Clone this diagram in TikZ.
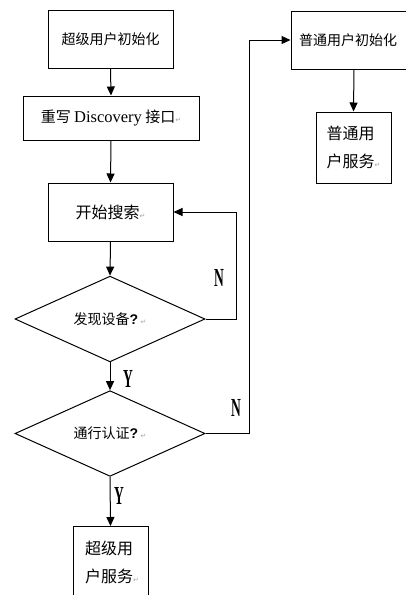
\documentclass[tikz,border=0pt]{standalone}
\usepackage{fontspec}
\setmainfont{Liberation Serif}
\newfontfamily\cjk{Noto Sans CJK SC}
\newfontfamily\symf{DejaVu Sans}
\newfontfamily\lsans{Liberation Sans}
\usetikzlibrary{shapes.geometric,arrows.meta}
\newcommand{\retmark}{{\symf\fontsize{7}{7}\selectfont\color{black!35}↵}}
\newcommand{\qmark}{{\lsans\bfseries\fontsize{14}{14}\selectfont ?}}
\tikzset{
  box/.style={draw, line width=1pt, rectangle, inner sep=0pt, fill=white},
  dia/.style={draw, line width=1pt, diamond, inner sep=0pt, minimum width=190pt, minimum height=72pt},
  arr/.style={draw, line width=1pt, -{Triangle[length=9pt,width=8pt]}},
  ln/.style={draw, line width=1pt},
  yn/.style={font=\bfseries\fontsize{26}{26}\selectfont, xscale=0.52, inner sep=0pt},
  cjk14/.style={font=\cjk\fontsize{14}{14}\selectfont},
  cjk16/.style={font=\cjk\fontsize{16}{28}\selectfont, align=left}
}
\begin{document}
\begin{tikzpicture}[x=1pt,y=-1pt]
\useasboundingbox (0,0) rectangle (406,595);
\clip (0,0) rectangle (406,595);
% left column
\node[box, cjk14, minimum width=125pt, minimum height=58pt] (b1) at (110.5,39.5) {超级用户初始化};
\node[box, minimum width=176pt, minimum height=44pt] (b2) at (111,118) {\cjk\fontsize{15}{15}\selectfont 重写 {\rmfamily\fontsize{16.5}{16.5}\selectfont Discovery} 接口\retmark};
\node[box, minimum width=125pt, minimum height=58pt] (b3) at (110.5,212) {\cjk\fontsize{16}{16}\selectfont 开始搜索\retmark};
\node[dia] (d1) at (110,319) {\cjk\fontsize{14}{14}\selectfont 发现设备\qmark\,\retmark};
\node[dia] (d2) at (110,433.5) {\cjk\fontsize{14}{14}\selectfont 通行认证\qmark\,\retmark};
\node[box, minimum width=75pt, minimum height=72pt, anchor=north] (b5) at (110.5,526) {};
\node[cjk16, anchor=north west, inner sep=0pt] (t5) at (85,541) {超级用\\户服务\retmark};
% right column
\node[box, cjk14, minimum width=126pt, minimum height=58pt] (b4) at (354,40) {\hspace*{-2pt}普通用户初始化\hspace*{10pt}};
\node[box, minimum width=75pt, minimum height=71pt] (b6) at (353.5,147.5) {};
\node[cjk16, inner sep=0pt] (t6) at (b6.center) {普通用\\户服务\retmark};
% connectors
\draw[arr] (b1.south) -- (b2.north);
\draw[arr] (b2.south) -- (b3.north);
\draw[arr] (b3.south) -- (d1.north);
\draw[arr] (d1.east) -- (236,319) |- (b3.east);
\draw[arr] (d1.south) -- (d2.north);
\draw[arr] (d2.south) -- (b5.north);
\draw[arr] (d2.east) -- (249,433.5) |- (b4.west);
\draw[arr] (b4.south) -- (b6.north);
% labels
\node[yn] (n1) at (219,278) {N};
\node[yn] (n2) at (236,408) {N};
\node[yn] (y1) at (128,379) {Y};
\node[yn] (y2) at (119,496) {Y};
\end{tikzpicture}
\end{document}
